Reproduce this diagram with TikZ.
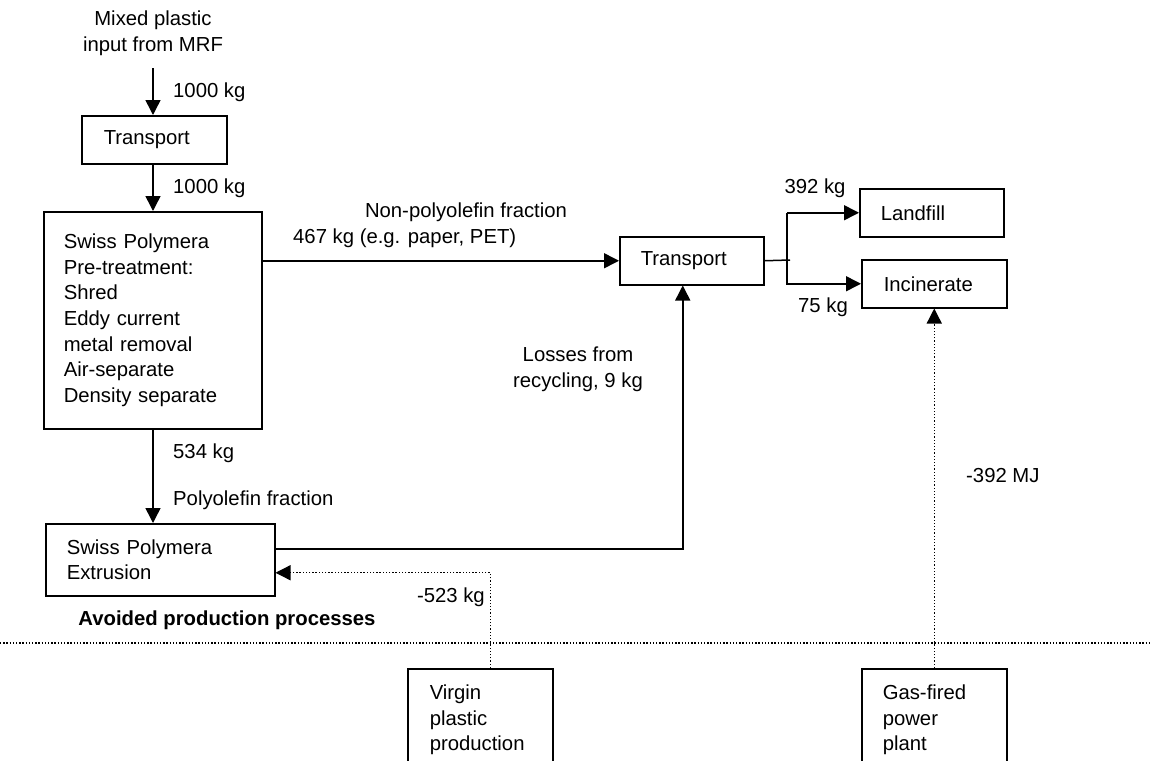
\documentclass[tikz,border=0pt]{standalone}
\usepackage{fontspec}
\setmainfont{Liberation Sans}
\usepackage{tikz}
\usetikzlibrary{arrows.meta,calc}
\tikzset{
	box/.style={draw, line width=1.5pt, anchor=north west, align=left, inner ysep=0pt},
	flow/.style={line width=1.5pt, -{Triangle[length=15pt,width=15pt]}},
	dotflow/.style={line width=1.3pt, dash pattern=on 1.3pt off 1.9pt, -{Triangle[length=15pt,width=15pt]}},
	lbl/.style={inner sep=0pt},
}

\begin{document}
\begin{tikzpicture}[x=1pt, y=-1pt, font=\fontsize{20.3}{25.7}\selectfont]
			%%%%% START %%%%%
			\clip (0, 0) rectangle (1153, 760);
			
			\node[lbl, align=center] (input) at (153, 33) {Mixed plastic\\input from MRF};
			\coordinate (src) at (153, 68);
			
			\node[box, minimum width=145pt, minimum height=48pt, text width=101pt, inner xsep=22pt] (trans1) at (81, 115) {Transport};
			\node[box, minimum width=218pt, minimum height=217pt, text width=178pt, inner xsep=20pt] (pretreat) at (43, 211) {Swiss Polymera\\Pre-treatment:\\Shred\\Eddy current\\metal removal\\Air-separate\\Density separate};
			\node[box, minimum width=229pt, minimum height=72pt, text width=187pt, inner xsep=21pt] (extr) at (45, 523) {Swiss Polymera\\Extrusion};
			
			\node[box, minimum width=144pt, minimum height=48pt, text width=102pt, inner xsep=21pt] (trans2) at (619, 236) {Transport};
			\node[box, minimum width=144pt, minimum height=48pt, text width=102pt, inner xsep=21pt] (landfill) at (859, 188) {Landfill};
			\node[box, minimum width=145pt, minimum height=48pt, text width=101pt, inner xsep=22pt] (incin) at (861, 259) {Incinerate};
			
			\node[box, minimum width=145pt, minimum height=102pt, text width=101pt, inner xsep=22pt] (virgin) at (407, 668) {Virgin\\plastic\\production};
			\node[box, minimum width=145pt, minimum height=102pt, text width=103pt, inner xsep=21pt] (gas) at (861, 668) {Gas-fired\\power\\plant};
			
			% main flow
			\draw[flow] (src) -- (src |- trans1.north);
			\node[lbl, anchor=west] (m1) at (173, 92) {1000 kg};
			\draw[flow] (src |- trans1.south) -- (src |- pretreat.north);
			\node[lbl, anchor=west] (m2) at (173, 188) {1000 kg};
			\draw[flow] (src |- pretreat.south) -- (src |- extr.north);
			\node[lbl, anchor=west] (m3) at (173, 453) {534 kg};
			\node[lbl, anchor=west] (polyo) at (173, 500) {Polyolefin fraction};
			
			\draw[flow] (pretreat.east |- trans2.west) -- (trans2.west);
			\node[lbl] (nonpoly) at (466, 212) {Non-polyolefin fraction};
			\node[lbl, anchor=west] (m4) at (293, 238) {467 kg (e.g. paper, PET)};
			
			\draw[flow] ($(extr.east)+(0, -11)$) -| ($(trans2.south)+(-9, 0)$);
			\node[lbl, align=center] (losses) at (578, 369) {Losses from\\recycling, 9 kg};
			
			% split after transport
			\coordinate (jn) at (787, 260);
			\draw[line width=1.5pt] (trans2.east) -- ($(jn)+(3, 0)$);
			\draw[flow] (jn |- landfill.west) -- (landfill.west);
			\draw[flow] (jn |- landfill.west) -- (jn |- incin.west) -- (incin.west);
			\node[lbl] (m5) at (815, 188) {392 kg};
			\node[lbl] (m6) at (823, 307) {75 kg};
			
			% avoided processes
			\coordinate (sepL) at (0, 643);
			\coordinate (sepR) at (1150, 643);
			\draw[line width=1.3pt, dash pattern=on 1.3pt off 1.9pt] (sepL) -- (sepR);
			\node[lbl, font=\fontsize{20.3}{25.7}\selectfont\bfseries] (avoid) at (227, 620) {Avoided production processes};
			
			\draw[dotflow] ($(virgin.north)+(10, 0)$) |- ($(extr.east)+(0, 13)$);
			\node[lbl, anchor=east] (m7) at (485, 597) {-523 kg};
			\draw[dotflow] (gas.north) -- (incin.south);
			\node[lbl, anchor=west] (m8) at (966, 476) {-392 MJ};
			
			%%%%% END %%%%%
\end{tikzpicture}
\end{document}
